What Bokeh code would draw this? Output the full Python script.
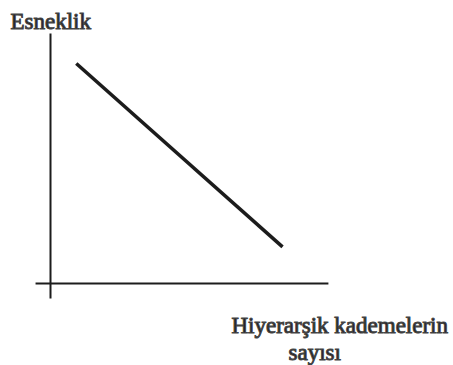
from bokeh.plotting import figure
from bokeh.models import Range1d, Label
from bokeh.embed import file_html
from bokeh.resources import INLINE

# Flexibility falls as the number of hierarchical levels grows
levels = [1.0, 9.0]
flexibility = [9.0, 1.5]

# Axis extents (data units), axes cross at the origin
x_axis_span = [-0.58, 10.78]
y_axis_span = [-0.61, 10.23]

y_title = "Esneklik"
x_title_line1 = "Hiyerarşik kademelerin"
x_title_line2 = "sayısı"

W, H = 453, 365
ox, oy = 50.0, 283.0          # origin in pixels from top-left
ux, uy = 25.78, 24.44         # pixels per data unit

p = figure(width=W, height=H, output_backend="svg", toolbar_location=None,
           x_range=Range1d(-ox / ux, (W - ox) / ux),
           y_range=Range1d(-(H - oy) / uy, oy / uy),
           min_border=0, min_border_left=0, min_border_right=0,
           min_border_top=0, min_border_bottom=0,
           x_axis_type=None, y_axis_type=None)
p.grid.visible = False
p.outline_line_color = None
p.background_fill_color = "white"
p.border_fill_color = "white"

ink = "#1c1c1c"
# hand-drawn style axes
p.line(x_axis_span, [0, 0], line_color=ink, line_width=2)
p.line([0, 0], y_axis_span, line_color=ink, line_width=2)

# the relationship line
p.line(levels, flexibility, line_color=ink, line_width=3.5)

font = "Liberation Serif"
common = dict(x_units="screen", y_units="screen", text_font=font,
              text_color=ink, text_outline_color="#444444", text_baseline="alphabetic")
p.add_layout(Label(x=10, y=H - 21, text=y_title, text_font_size="23px", **common))
p.add_layout(Label(x=231, y=H - 325, text=x_title_line1, text_font_size="23px", **common))
p.add_layout(Label(x=288, y=H - 352, text=x_title_line2, text_font_size="23px", **common))

open("out.html", "w").write(file_html(p, INLINE))
